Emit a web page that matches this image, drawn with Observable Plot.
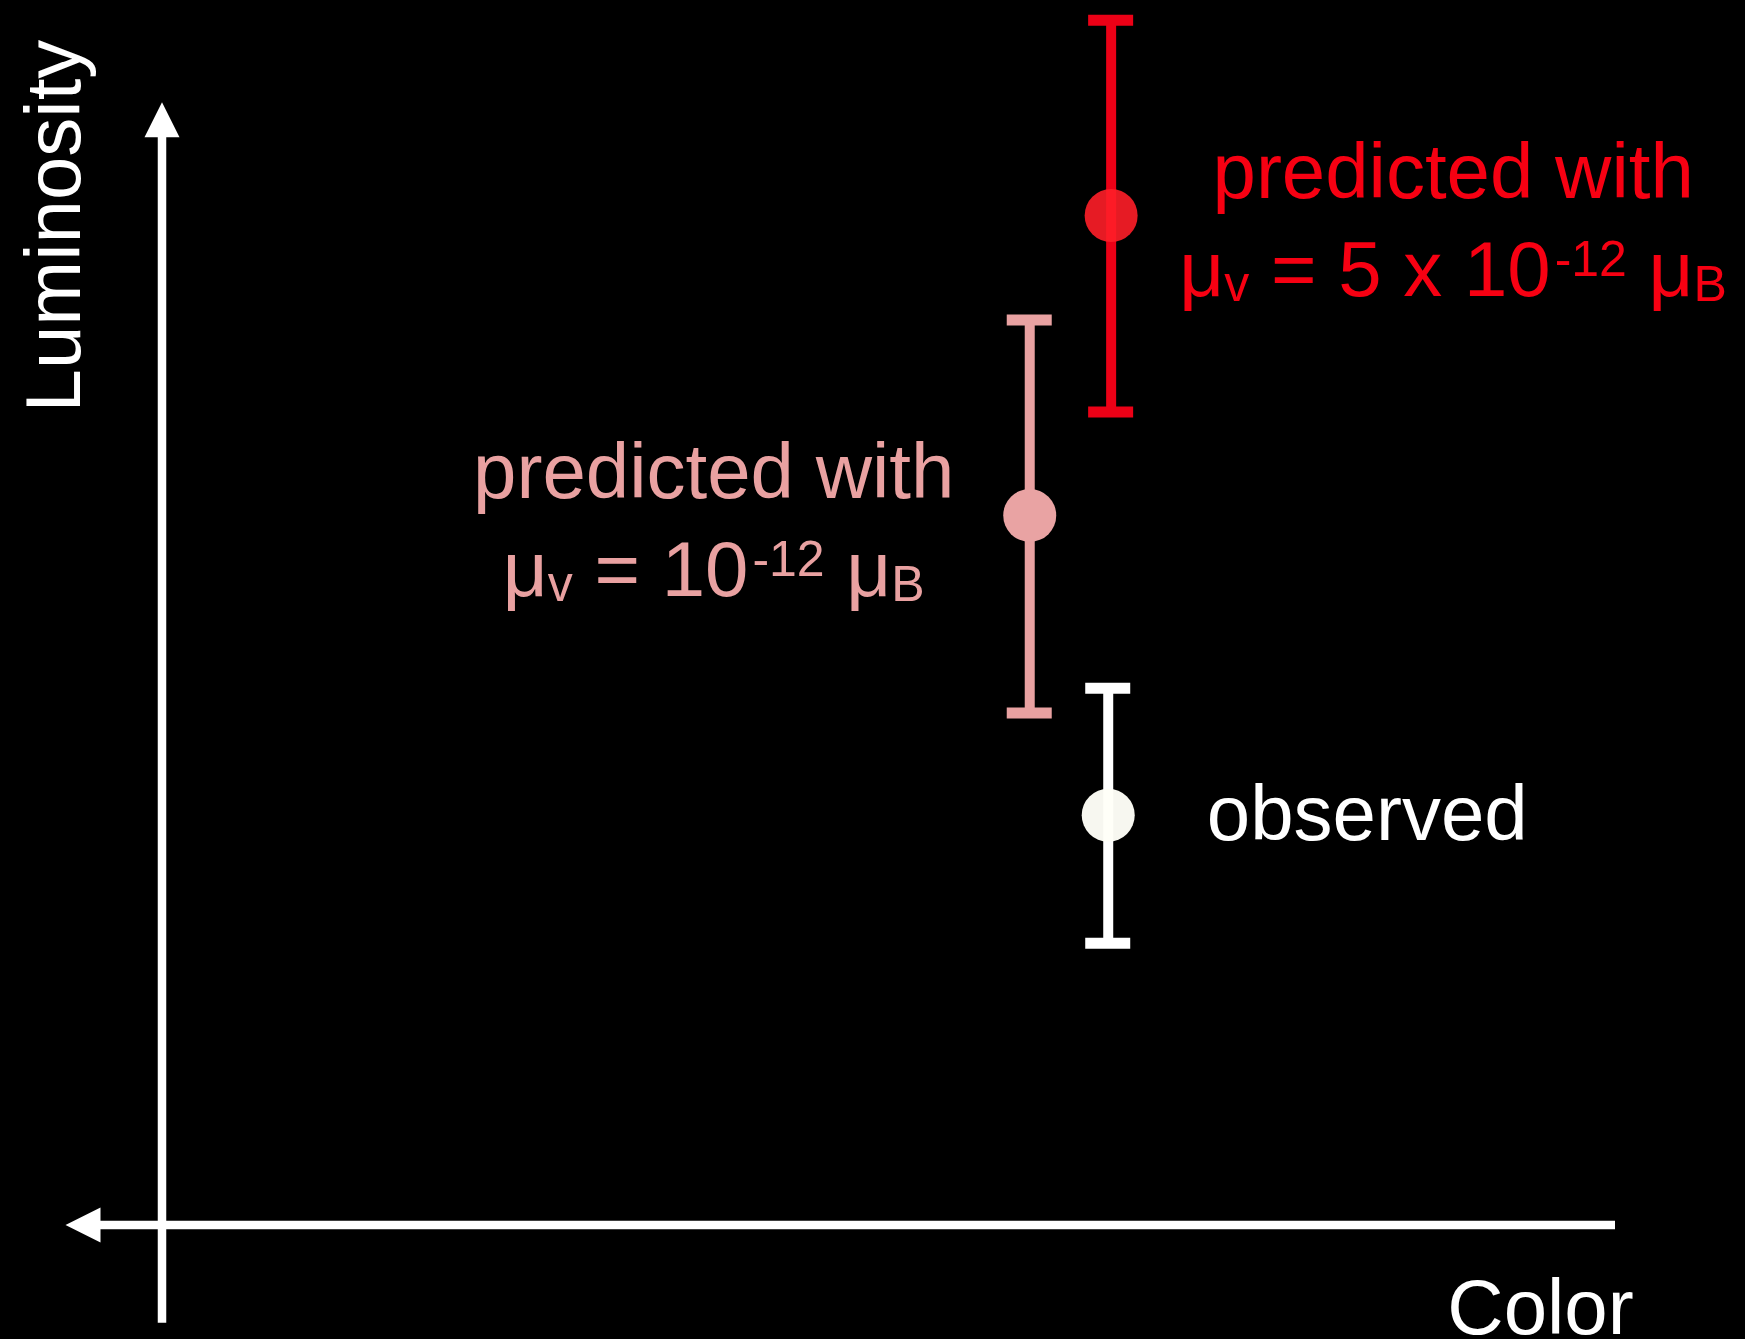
<!DOCTYPE html>
<html>
<head>
<meta charset="utf-8">
<script src="https://cdn.jsdelivr.net/npm/d3@7"></script>
<script src="https://cdn.jsdelivr.net/npm/@observablehq/plot@0.6"></script>
<style>
  html, body { margin: 0; padding: 0; background: #000; }
</style>
</head>
<body>
<div id="chart"></div>
<script>
// Measurements on the colour–luminosity diagram: the observed value and
// two predictions for different neutrino magnetic moments.
const seriesKeys = ["observed", "weak", "strong"];
const labels = [
  "observed",
  "predicted with\nμ_{v} = 10^{-12} μ_{B}",
  "predicted with\nμ_{v} = 5 x 10^{-12} μ_{B}"
];
const colorIndex = [65.1, 59.7, 65.3];
const luminosity = [36.5, 63.2, 89.9];
const luminosityLow = [25.1, 45.6, 72.4];
const luminosityHigh = [47.8, 80.6, 107.3];

// Extent of the two schematic axes (the arrow sits at the first value)
const colorAxis = [-6.64, 100];
const luminosityAxis = [100, -8.75];

const points = seriesKeys.map((series, i) => ({
  series,
  label: labels[i],
  color: colorIndex[i],
  lum: luminosity[i],
  lo: luminosityLow[i],
  hi: luminosityHigh[i]
}));

// Styling
const FONT = "'Helvetica Neue', Helvetica, 'Liberation Sans', Arial, sans-serif";
const barColor = {observed: "#ffffff", weak: "#e8a1a1", strong: "#ec0016"};
const dotColor = {observed: "#fffff8", weak: "#e9a3a3", strong: "#ff1e28"};
const dotOpacity = {observed: 0.97, weak: 1, strong: 0.9};
const textColor = {observed: "#ffffff", weak: "#e9a1a1", strong: "#f70012"};
const labelDx = {observed: 259, weak: -316, strong: 342};

// A filled arrowhead whose tip sits on the anchor point, pointing up
const arrowHead = {
  draw(ctx) {
    ctx.moveTo(0, 0);
    ctx.lineTo(17.5, 35);
    ctx.lineTo(-17.5, 35);
    ctx.closePath();
  }
};

const labelMark = (key) => Plot.text(points.filter(d => d.series === key), {
  x: "color", y: "lum", text: "label",
  dx: labelDx[key],
  fill: textColor[key],
  fontSize: 78, fontFamily: FONT,
  textAnchor: "middle",
  lineHeight: key === "observed" ? 1 : 98 / 78
});

const chart = Plot.plot({
  width: 1745,
  height: 1339,
  x: {domain: [0, 100], range: [161.5, 1615], axis: null},
  y: {domain: [0, 100], range: [1224.5, 101.7], axis: null},
  style: {background: "#000", fontFamily: FONT, overflow: "visible"},
  marks: [
    // colour axis (arrow pointing left)
    Plot.ruleY([0], {x1: colorAxis[0], x2: colorAxis[1], stroke: "#fff", strokeWidth: 8.5, insetLeft: 20}),
    Plot.dot([0], {x: colorAxis[0], y: 0, symbol: arrowHead, rotate: -90, fill: "#fff", stroke: "none", r: 1}),
    // luminosity axis (arrow pointing up)
    Plot.ruleX([0], {x: 0, y1: luminosityAxis[0], y2: luminosityAxis[1], stroke: "#fff", strokeWidth: 8.5, insetTop: 20}),
    Plot.dot([0], {x: 0, y: luminosityAxis[0], symbol: arrowHead, fill: "#fff", stroke: "none", r: 1}),

    // error bars
    Plot.ruleX(points, {x: "color", y1: "hi", y2: "lo", stroke: d => barColor[d.series], strokeWidth: 10}),
    Plot.ruleY(points, {y: "hi", x1: "color", x2: "color", insetLeft: -22.5, insetRight: -22.5, stroke: d => barColor[d.series], strokeWidth: 11}),
    Plot.ruleY(points, {y: "lo", x1: "color", x2: "color", insetLeft: -22.5, insetRight: -22.5, stroke: d => barColor[d.series], strokeWidth: 11}),
    Plot.dot(points, {x: "color", y: "lum", r: 26.5, fill: d => dotColor[d.series], fillOpacity: d => dotOpacity[d.series], stroke: "none"}),

    // labels
    labelMark("observed"),
    labelMark("weak"),
    labelMark("strong"),

    // axis titles
    Plot.text(["Luminosity"], {x: -7.33, y: 88.97, rotate: -90, fill: "#fff", fontSize: 78, fontFamily: FONT, textAnchor: "middle"}),
    Plot.text(["Color"], {x: 94.84, y: -7.44, fill: "#fff", fontSize: 78, fontFamily: FONT, textAnchor: "middle"})
  ]
});

// Turn _{...} and ^{...} in label text into smaller, shifted tspans
const SVGNS = "http://www.w3.org/2000/svg";
const scriptStyle = {"_": {size: 50, shift: 5, gap: 0}, "^": {size: 50, shift: -20, gap: 4}};
function setScripts(svg) {
  const nodes = [...svg.querySelectorAll("text, tspan")]
    .filter(n => n.childElementCount === 0 && /[_^]\{/.test(n.textContent));
  for (const node of nodes) {
    const source = node.textContent;
    node.textContent = "";
    let offset = 0, last = 0, m;
    const re = /([_^])\{([^}]*)\}/g;
    const append = (text, style) => {
      if (!text) return;
      const shift = style ? style.shift : 0;
      const t = document.createElementNS(SVGNS, "tspan");
      const dy = shift - offset;
      if (dy) t.setAttribute("dy", dy);
      if (style && style.gap) t.setAttribute("dx", style.gap);
      if (style) t.setAttribute("font-size", style.size);
      t.textContent = text;
      node.appendChild(t);
      offset = shift;
    };
    while ((m = re.exec(source))) {
      append(source.slice(last, m.index), null);
      append(m[2], scriptStyle[m[1]]);
      last = re.lastIndex;
    }
    append(source.slice(last), null);
  }
}
setScripts(chart);

document.getElementById("chart").appendChild(chart);
</script>
</body>
</html>
